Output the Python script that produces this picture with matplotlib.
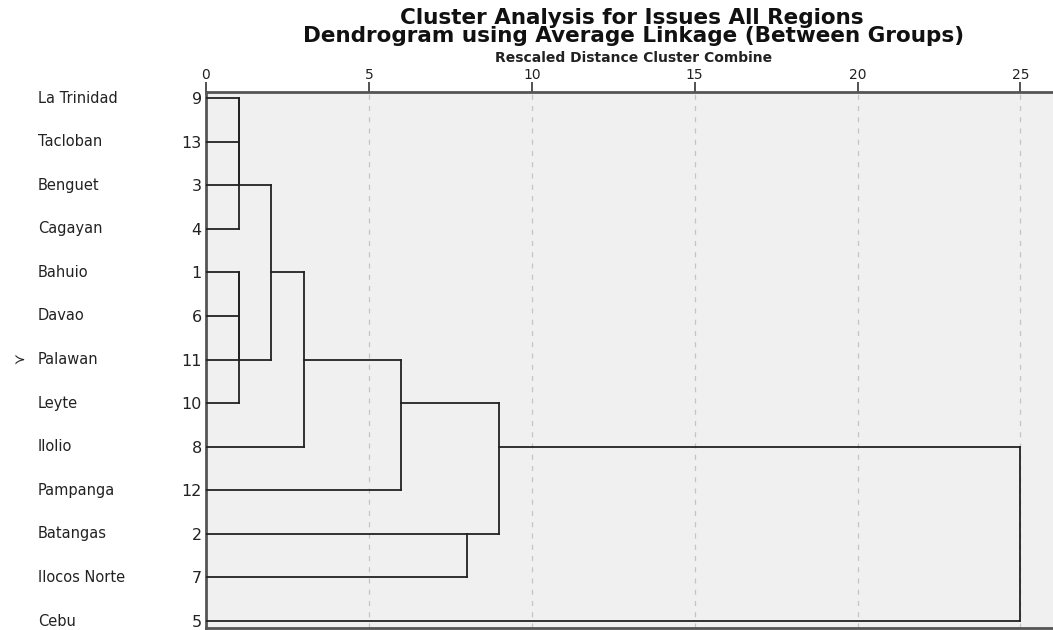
import matplotlib.pyplot as plt
import matplotlib.transforms as mtransforms

# leaves in dendrogram order (top to bottom)
leaf_names = ["La Trinidad", "Tacloban", "Benguet", "Cagayan", "Bahuio", "Davao",
              "Palawan", "Leyte", "Ilolio", "Pampanga", "Batangas", "Ilocos Norte", "Cebu"]
leaf_cases = [9, 13, 3, 4, 1, 6, 11, 10, 8, 12, 2, 7, 5]

# agglomeration schedule: (cluster a, cluster b, rescaled distance)
schedule = [(9, 13, 1), (9, 3, 1), (9, 4, 1),
            (1, 6, 1), (1, 11, 1), (1, 10, 1),
            (9, 1, 2), (9, 8, 3), (9, 12, 6),
            (2, 7, 8), (9, 2, 9), (9, 5, 25)]

xticks = [0, 5, 10, 15, 20, 25]

W, H = 1053, 630
fig = plt.figure(figsize=(W / 100, H / 100), dpi=100)
ax = fig.add_axes([206 / W, 2 / H, (W - 206) / W, (628 - 92) / H])
ax.set_facecolor("#f0f0f0")

ax.set_xlim(0, 26)
ax.set_ylim(12.16, -0.14)

for x in xticks[1:]:
    ax.axvline(x, color="#c4c4c4", lw=0.9, ls=(0, (4, 5)), zorder=1)

# walk the schedule, SPSS style: cluster sits on the middle row of its children
pos = {c: i for i, c in enumerate(leaf_cases)}
height = {c: 0 for c in leaf_cases}
lc = "#222222"
for a, b, d in schedule:
    ax.plot([height[a], d], [pos[a], pos[a]], color=lc, lw=1.3, zorder=3)
    ax.plot([height[b], d], [pos[b], pos[b]], color=lc, lw=1.3, zorder=3)
    ax.plot([d, d], [pos[a], pos[b]], color=lc, lw=1.3, zorder=3)
    pos[a] = (pos[a] + pos[b]) // 2
    height[a] = d

ax.set_yticks(range(len(leaf_cases)))
ax.set_yticklabels([str(c) for c in leaf_cases], fontsize=11.5, color="#222222")
ax.tick_params(axis="y", length=0, pad=3)

ax.xaxis.tick_top()
ax.set_xticks(xticks)
ax.set_xticklabels([str(t) for t in xticks], fontsize=10, color="#222222")
ax.tick_params(axis="x", length=7, width=1.3, color="#444444", pad=0.5)

for side in ["left", "top", "bottom"]:
    ax.spines[side].set_color("#555555")
    ax.spines[side].set_linewidth(2)
ax.spines["right"].set_visible(False)

trans = mtransforms.blended_transform_factory(fig.transFigure, ax.transData)
for i, name in enumerate(leaf_names):
    ax.text(38 / W, i, name, transform=trans, ha="left", va="center", fontsize=10.5, color="#222222")
ax.text(14 / W, leaf_names.index("Palawan"), "\u227b", transform=trans, ha="left", va="center",
        fontsize=10, color="#222222")

fig.text(632 / W, 1 - 24.5 / H, "Cluster Analysis for Issues All Regions",
         ha="center", va="baseline", fontsize=15.5, fontweight="bold", color="#111111")
fig.text(634 / W, 1 - 42.5 / H, "Dendrogram using Average Linkage (Between Groups)",
         ha="center", va="baseline", fontsize=15.5, fontweight="bold", color="#111111")
fig.text(634 / W, 1 - 62.5 / H, "Rescaled Distance Cluster Combine",
         ha="center", va="baseline", fontsize=10, fontweight="bold", color="#222222")

fig.savefig("out.png", dpi=100)
